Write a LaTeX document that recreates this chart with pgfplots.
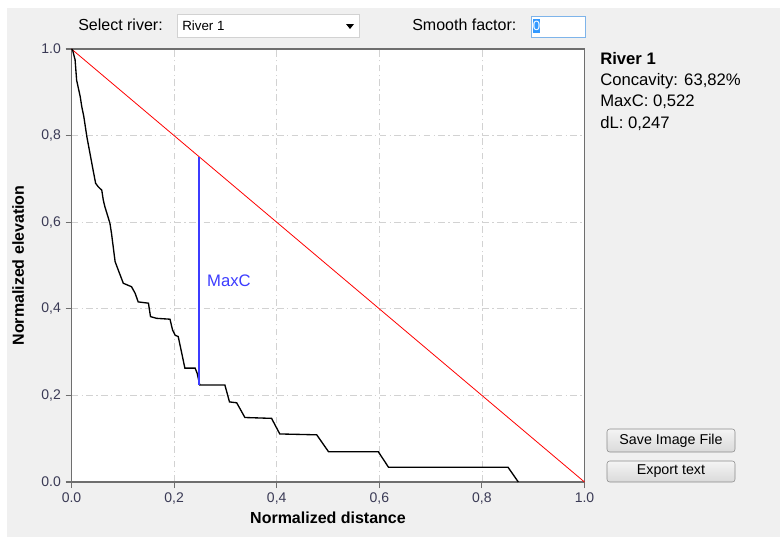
\documentclass[border=0pt]{standalone}
\usepackage{pgfplots}
\pgfplotsset{compat=1.18}
\usepackage{fontspec}
\setmainfont{Liberation Sans}
\definecolor{panelgray}{HTML}{F0F0F0}
\definecolor{axisgray}{HTML}{6E6E6E}
\definecolor{gridgray}{HTML}{D2D2D2}
\definecolor{ticklab}{HTML}{3A3A55}
\definecolor{maxcblue}{HTML}{3C3CFF}
\definecolor{btnborder}{HTML}{8A8A8A}
\definecolor{btntop}{HTML}{F4F4F4}
\definecolor{btnbot}{HTML}{DADADA}
\definecolor{selblue}{HTML}{3399FF}
\definecolor{tbborder}{HTML}{7EB4EA}

\pgfplotstableread{
x y
0.000 1.000
0.002 0.998
0.007 0.975
0.010 0.928
0.017 0.890
0.020 0.867
0.024 0.844
0.030 0.797
0.036 0.759
0.042 0.721
0.047 0.690
0.052 0.682
0.059 0.674
0.062 0.651
0.065 0.636
0.072 0.609
0.075 0.597
0.078 0.574
0.085 0.509
0.091 0.490
0.101 0.459
0.117 0.451
0.124 0.436
0.130 0.416
0.150 0.413
0.154 0.382
0.166 0.378
0.192 0.376
0.197 0.351
0.202 0.339
0.208 0.336
0.215 0.297
0.221 0.263
0.241 0.263
0.245 0.251
0.250 0.224
0.299 0.224
0.308 0.185
0.322 0.183
0.338 0.149
0.390 0.147
0.406 0.111
0.478 0.109
0.501 0.070
0.598 0.070
0.618 0.034
0.851 0.034
0.871 0.000
}\profile

\begin{document}
\begin{tikzpicture}
\begin{scope}[x=0.75pt,y=-0.75pt]
\path[use as bounding box] (0,0) rectangle (780,537);
\fill[white] (0,0) rectangle (780,537);
\fill[panelgray] (7,8) rectangle (780,537);
% top controls
\node[anchor=west,font=\fontsize{12}{14}\selectfont,inner sep=0] at (78,25) {Select river:};
\draw[gray!35,fill=white] (177,14) rectangle (359,37);
\node[anchor=west,font=\fontsize{10}{12}\selectfont,inner sep=0] at (182,25.5) {River 1};
\fill[black] (346,24) -- (354,24) -- (350,29) -- cycle;
\node[anchor=west,font=\fontsize{12}{14}\selectfont,inner sep=0] at (412,25) {Smooth factor:};
\draw[tbborder,fill=white] (531,16) rectangle (585,37);
\fill[selblue] (533,19) rectangle (540,33);
\node[white,font=\fontsize{10}{12}\selectfont,inner sep=0] at (536.5,26) {0};
% right panel
\node[anchor=west,font=\fontsize{12.5}{14}\selectfont\bfseries,inner sep=0] at (600,59) {River 1};
\node[anchor=west,font=\fontsize{12.5}{14}\selectfont,inner sep=0] at (600,81) {Concavity: 63,82\%};
\node[anchor=west,font=\fontsize{12.5}{14}\selectfont,inner sep=0] at (600,102) {MaxC: 0,522};
\node[anchor=west,font=\fontsize{12.5}{14}\selectfont,inner sep=0] at (600,124) {dL: 0,247};
% buttons
\shade[top color=btntop,bottom color=btnbot,rounded corners=2pt] (607,429) rectangle (735,452);
\draw[btnborder,rounded corners=2pt] (607,429) rectangle (735,452);
\node[font=\fontsize{10.7}{12}\selectfont,inner sep=0] at (671,440.5) {Save Image File};
\shade[top color=btntop,bottom color=btnbot,rounded corners=2pt] (607,461) rectangle (735,482);
\draw[btnborder,rounded corners=2pt] (607,461) rectangle (735,482);
\node[font=\fontsize{10.7}{12}\selectfont,inner sep=0] at (671,471.5) {Export text};
\end{scope}

\begin{axis}[
  at={(53.625pt,-361.5pt)}, anchor=south west,
  scale only axis, width=384.75pt, height=324.75pt,
  xmin=0, xmax=1, ymin=0, ymax=1,
  axis background/.style={fill=white},
  axis line style={axisgray, line width=0.8pt},
  xtick={0,0.2,0.4,0.6,0.8,1},
  ytick={0,0.2,0.4,0.6,0.8,1},
  xticklabels={0.0,{0,2},{0,4},{0,6},{0,8},1.0},
  yticklabels={0.0,{0,2},{0,4},{0,6},{0,8},1.0},
  tick pos=left, tick align=outside,
  major tick length=4.5pt,
  tick style={axisgray, line width=0.8pt},
  tick label style={font=\fontsize{10.5}{12}\selectfont, text=ticklab},
  grid=major,
  major grid style={gridgray, line width=0.5pt, dash pattern=on 5pt off 2.5pt on 1pt off 2.5pt},
  xlabel={Normalized distance},
  ylabel={Normalized elevation},
  xlabel style={font=\fontsize{12}{14}\selectfont\bfseries, at={(axis description cs:0.5,-0.083)}, anchor=center},
  ylabel style={font=\fontsize{12}{14}\selectfont\bfseries, at={(axis description cs:-0.104,0.5)}, anchor=center, rotate=0},
  clip=false,
]
\addplot[red, line width=0.6pt] coordinates {(0,1) (1,0)};
\addplot[black, line width=1pt] table[x=x,y=y] {\profile};
\addplot[maxcblue, line width=1.3pt] coordinates {(0.249,0.224) (0.249,0.751)};
\node[anchor=west, text=maxcblue, font=\fontsize{12.5}{14}\selectfont, inner sep=0] at (axis cs:0.264,0.464) {MaxC};
\end{axis}
\end{tikzpicture}
\end{document}
